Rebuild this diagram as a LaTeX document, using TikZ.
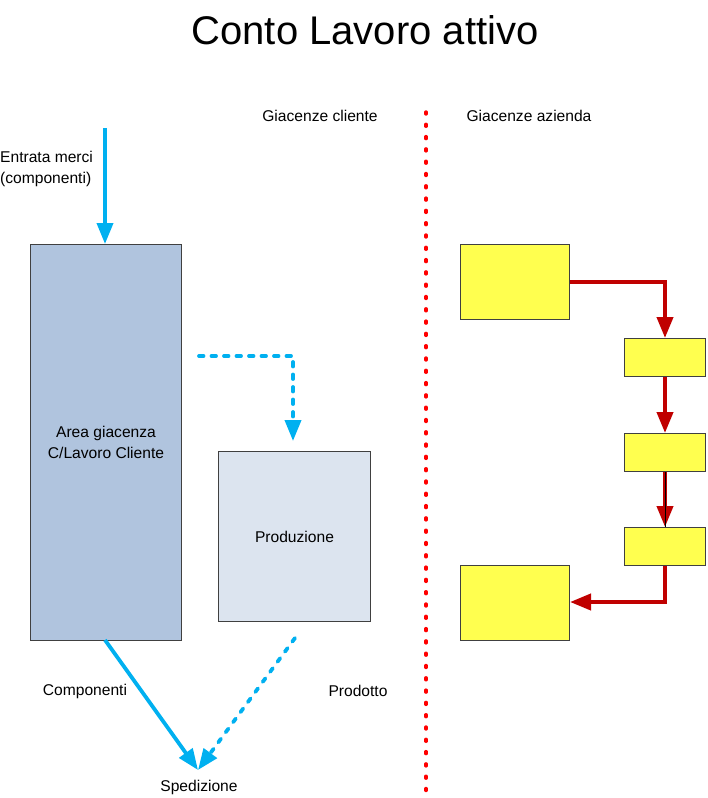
\documentclass[tikz,border=0pt]{standalone}
\usepackage{fontspec}
\setmainfont{Liberation Sans}
\usetikzlibrary{arrows.meta,calc}
\definecolor{skyb}{HTML}{00B0F0}
\definecolor{redc}{HTML}{C00000}
\definecolor{bigfill}{HTML}{B0C4DE}
\definecolor{prodfill}{HTML}{DCE4EF}
\definecolor{yel}{HTML}{FFFF4F}
\definecolor{rdot}{HTML}{FF0000}
\begin{document}
\begin{tikzpicture}[x=1pt,y=-1pt,
  lbl/.style={font=\fontsize{15.6}{21}\selectfont, inner sep=0pt},
  box/.style={draw=black!75, line width=1pt, inner sep=0pt},
  ybox/.style={box, fill=yel},
  bluearr/.style={draw=skyb, line width=3.8pt, -{Triangle[length=21pt,width=16pt]}},
  bluedash/.style={bluearr, line cap=round, dash pattern=on 4.5pt off 8pt},
  redarr/.style={draw=redc, line width=4pt, -{Triangle[length=21pt,width=16pt]}}]
\useasboundingbox (0,0) rectangle (707,798);
\node[inner sep=0pt, font=\fontsize{40}{48}\selectfont] (title) at (365,30) {Conto Lavoro attivo};
\node[lbl] (gc) at (320,116) {Giacenze cliente};
\node[lbl] (ga) at (529,116) {Giacenze azienda};
\coordinate (dtop) at (426,112);
\coordinate (dbot) at (426,792);
\draw[rdot, line width=3.4pt, line cap=round, dash pattern=on 2pt off 10.3pt] (dtop) -- (dbot);
% left side
\node[lbl, align=left, anchor=west] (entrata) at (0,169) {Entrata merci\\(componenti)};
\node[box, fill=bigfill, minimum width=151pt, minimum height=396pt, anchor=north west, align=center,
  font=\fontsize{15.6}{21}\selectfont] (area) at (30,244) {Area giacenza\\C/Lavoro Cliente};
\node[box, fill=prodfill, minimum width=152pt, minimum height=170pt, anchor=north west,
  font=\fontsize{15.6}{21}\selectfont] (prod) at (218,451) {Produzione};
\coordinate (ein) at (105,128);
\draw[bluearr] (ein) -- (area.north -| ein);
\coordinate (ds1) at (199,356);
\coordinate (ds2) at (293,356);
\draw[bluedash] (ds1) -- (ds2) -- ($(prod.north -| ds2)+(0,-10)$);
\node[lbl] (sped) at (199,787) {Spedizione};
\coordinate (spt) at (198,770);
\draw[bluearr] (105,640) -- (spt);
\coordinate (pd) at (295,638);
\draw[bluedash] (pd) -- (spt);
\node[lbl] (comp) at (85,691) {Componenti};
\node[lbl] (prodt) at (358,691) {Prodotto};
% right side
\node[ybox, minimum width=109pt, minimum height=75pt, anchor=north west] (y1) at (460,244) {};
\node[ybox, minimum width=81pt, minimum height=38pt, anchor=north west] (y2) at (624,338) {};
\node[ybox, minimum width=81pt, minimum height=38pt, anchor=north west] (y3) at (624,433) {};
\node[ybox, minimum width=81pt, minimum height=38pt, anchor=north west] (y4) at (624,527) {};
\node[ybox, minimum width=109pt, minimum height=75pt, anchor=north west] (y5) at (460,565) {};
\coordinate (c1) at (665,282);
\coordinate (c2) at (665,602);
\draw[redarr] (y1.east |- c1) -- (c1) -- (y2.north -| c1);
\draw[redarr] (y2.south -| c1) -- (y3.north -| c1);
\draw[redarr] (y3.south -| c1) -- (y4.north -| c1);
\draw[black, line width=0.8pt] (y3.south -| c1) -- (y4.north -| c1);
\draw[redarr] (y4.south -| c1) -- (c2) -- (y5.east |- c2);
\end{tikzpicture}
\end{document}
